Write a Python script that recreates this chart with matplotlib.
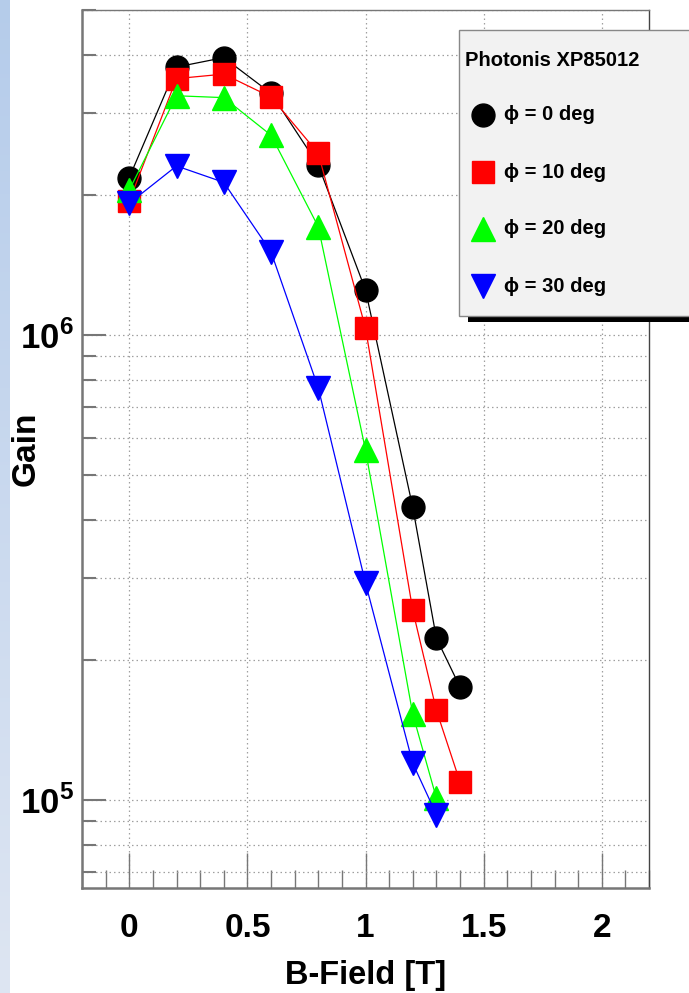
import numpy as np
import matplotlib
matplotlib.use("Agg")
import matplotlib.pyplot as plt
from matplotlib.patches import Rectangle
from matplotlib.lines import Line2D
from matplotlib.ticker import FixedLocator, MultipleLocator, NullFormatter

plt.rcParams['font.family'] = ['Liberation Sans', 'DejaVu Sans']
plt.rcParams['font.weight'] = 'bold'
plt.rcParams['mathtext.fontset'] = 'custom'
plt.rcParams['mathtext.rm'] = 'Liberation Sans:bold'
plt.rcParams['mathtext.bf'] = 'Liberation Sans:bold'

# gain vs field, one series per tilt angle
bfield = [0.0, 0.2, 0.4, 0.6, 0.8, 1.0, 1.2, 1.3, 1.4]
gain_0 = [2.18e6, 3.77e6, 3.95e6, 3.31e6, 2.32e6, 1.25e6, 4.26e5, 2.23e5, 1.75e5]
gain_10 = [1.94e6, 3.56e6, 3.64e6, 3.25e6, 2.46e6, 1.035e6, 2.56e5, 1.56e5, 1.094e5]
bfield_20 = [0.0, 0.2, 0.4, 0.6, 0.8, 1.0, 1.2, 1.3]
gain_20 = [2.05e6, 3.27e6, 3.24e6, 2.69e6, 1.71e6, 5.66e5, 1.53e5, 1.01e5]
bfield_30 = [0.0, 0.2, 0.4, 0.6, 0.8, 1.0, 1.2, 1.3]
gain_30 = [1.92e6, 2.31e6, 2.13e6, 1.51e6, 7.7e5, 2.93e5, 1.2e5, 9.31e4]

labels = ['\u03d5 = 0 deg', '\u03d5 = 10 deg', '\u03d5 = 20 deg', '\u03d5 = 30 deg']
colors = ['black', '#ff0000', '#00ff00', '#0000ff']
markers = ['o', 's', '^', 'v']
msizes = [16.5, 16, 17, 17]

fig = plt.figure(figsize=(6.89, 9.93), dpi=100)

# blue strip down the left edge
strip = fig.add_axes([0, 0, 10 / 689, 1])
grad = np.linspace(0, 1, 256).reshape(-1, 1)
top = np.array([0.71, 0.80, 0.92])
bot = np.array([0.87, 0.90, 0.95])
img = top + grad[:, :, None] * (bot - top)
strip.imshow(img, aspect='auto', extent=[0, 1, 0, 1])
strip.axis('off')

ax = fig.add_axes([82 / 689, 1 - 888 / 993, 567 / 689, 878 / 993])
series = [(bfield, gain_0), (bfield, gain_10), (bfield_20, gain_20), (bfield_30, gain_30)]
for (xs, ys), c, m, s in zip(series, colors, markers, msizes):
    ax.plot(xs, ys, color=c, lw=0.9, marker=m, ms=s, mec=c, mfc=c, zorder=3)

ax.set_yscale('log')
ax.set_xlim(-0.2, 2.2)
ax.set_ylim(6.47e4, 5e6)

ax.xaxis.set_major_locator(MultipleLocator(0.5))
ax.xaxis.set_minor_locator(MultipleLocator(0.1))
ax.xaxis.set_major_formatter(plt.FuncFormatter(lambda v, p: '%g' % v))

ax.yaxis.set_major_locator(FixedLocator([1e5, 1e6]))
minor_y = [k * 10 ** e for e in (4, 5, 6) for k in range(2, 10)]
ax.yaxis.set_minor_locator(FixedLocator(minor_y))
ax.yaxis.set_minor_formatter(NullFormatter())
ax.yaxis.set_major_formatter(plt.FuncFormatter(lambda v, p: r'$10^{%d}$' % round(np.log10(v))))

ax.tick_params(axis='x', which='major', direction='in', length=25, width=1, color='#777777',
               labelsize=24, pad=18, top=False)
ax.tick_params(axis='x', which='minor', direction='in', length=13, width=1, color='#777777', top=False)
ax.tick_params(axis='y', which='major', direction='in', length=17, width=1.5, color='#777777',
               labelsize=25, pad=6, right=False)
ax.tick_params(axis='y', which='minor', direction='in', length=10, width=1.5, color='#777777', right=False)

ax.grid(True, which='major', axis='x', color='#a0a0a0', ls=(0, (1.2, 2.4)), lw=0.9)
ax.grid(True, which='both', axis='y', color='#a0a0a0', ls=(0, (1.2, 2.4)), lw=0.9)
ax.set_axisbelow(True)

for side in ['left', 'bottom']:
    ax.spines[side].set_color('#777777')
    ax.spines[side].set_linewidth(1.8)
ax.spines['top'].set_color('#777777')
ax.spines['top'].set_linewidth(1.0)
ax.spines['right'].set_color('#444444')
ax.spines['right'].set_linewidth(1.0)

ax.set_xlabel('B-Field [T]', fontsize=23.5, fontweight='bold')
ax.xaxis.set_label_coords(0.5, -0.082)
ax.set_ylabel('Gain', fontsize=24, fontweight='bold')
ax.yaxis.set_label_coords(-0.072, 0.5)

# legend box with drop shadow
lx0, ly0, lx1, ly1 = 459, 30, 700, 316
shadow = Rectangle(((lx0 + 9) / 689, 1 - (ly1 + 6) / 993), (lx1 - lx0) / 689, (ly1 - ly0) / 993,
                   transform=fig.transFigure, facecolor='black', edgecolor='none', zorder=10)
box = Rectangle((lx0 / 689, 1 - ly1 / 993), (lx1 - lx0) / 689, (ly1 - ly0) / 993,
                transform=fig.transFigure, facecolor='#f2f2f2', edgecolor='#888888', lw=1.0, zorder=11)
fig.add_artist(shadow)
fig.add_artist(box)
fig.text(465 / 689, 1 - 61 / 993, 'Photonis XP85012', fontsize=14.5, fontweight='bold',
         va='center', ha='left', zorder=12)
for i, (lab, c, m, s) in enumerate(zip(labels, colors, markers, msizes)):
    yy = 1 - (115 + 57 * i) / 993
    fig.add_artist(Line2D([483 / 689], [yy], transform=fig.transFigure, marker=m, ms=s,
                          color=c, mec=c, mfc=c, ls='none', zorder=12))
    fig.text(504 / 689, yy, lab, fontsize=14.5, fontweight='bold', va='center', ha='left', zorder=12)

fig.savefig('out.png', dpi=100)
